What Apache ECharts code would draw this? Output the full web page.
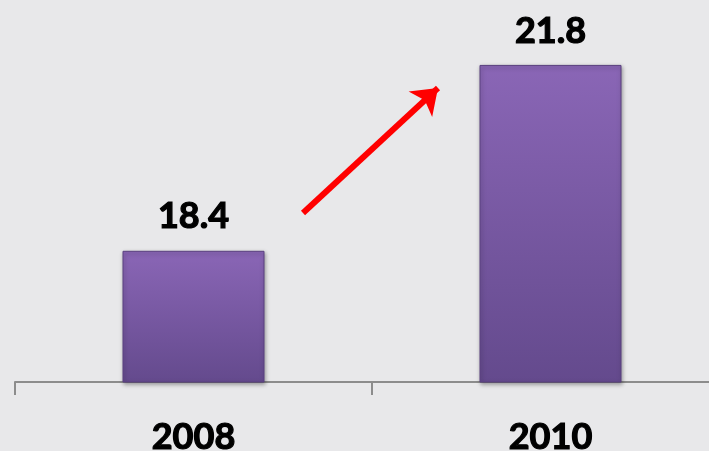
<!DOCTYPE html>
<html>
<head>
<meta charset="utf-8">
<script src="https://cdn.jsdelivr.net/npm/echarts@6/dist/echarts.min.js"></script>
<style>
  html, body { margin: 0; padding: 0; background: #e8e8ea; }
  #main { width: 709px; height: 451px; }
</style>
</head>
<body>
<div id="main"></div>
<script>
// años y valores
const years = ['2008', '2010'];
const values = [18.4, 21.8];
const yMin = 16;
const yMax = 22;

var myChart = echarts.init(document.getElementById('main'));

myChart.setOption({
    backgroundColor: '#e8e8ea',
    animation: false,
    textStyle: { fontFamily: 'Lato' },
    grid: { left: 15, right: -20, top: 54, bottom: 69, outerBoundsMode: 'none', containLabel: false },
    xAxis: {
        type: 'category',
        data: years,
        axisLine: { lineStyle: { color: '#8c8c8c', width: 2 } },
        axisTick: { show: true, length: 13, lineStyle: { color: '#8c8c8c', width: 2 } },
        axisLabel: {
            color: '#000',
            fontSize: 36,
            fontWeight: 'bold',
            fontFamily: 'Lato',
            textBorderColor: '#000',
            textBorderWidth: 1.2,
            margin: 37
        }
    },
    yAxis: {
        type: 'value',
        min: yMin,
        max: yMax,
        show: false,
        splitLine: { show: false }
    },
    series: [
        {
            type: 'bar',
            data: values,
            barWidth: 142,
            itemStyle: {
                color: new echarts.graphic.LinearGradient(0, 0, 0, 1, [
                    { offset: 0, color: '#8a66b6' },
                    { offset: 1, color: '#644a8d' }
                ]),
                borderColor: '#5a4180',
                borderWidth: 1,
                shadowBlur: 4,
                shadowColor: 'rgba(0,0,0,0.35)',
                shadowOffsetX: 1,
                shadowOffsetY: 2
            },
            label: {
                show: true,
                position: 'top',
                distance: 16,
                color: '#000',
                fontSize: 36,
                fontWeight: 'bold',
                fontFamily: 'Lato',
                textBorderColor: '#000',
                textBorderWidth: 1.2
            },
            markLine: {
                silent: true,
                symbol: ['none', 'arrow'],
                symbolSize: [26, 24],
                label: { show: false },
                lineStyle: { color: '#ff0000', width: 6, type: 'solid' },
                data: [
                    [{ x: 303, y: 213 }, { x: 438, y: 88 }]
                ]
            }
        }
    ]
});
</script>
</body>
</html>
